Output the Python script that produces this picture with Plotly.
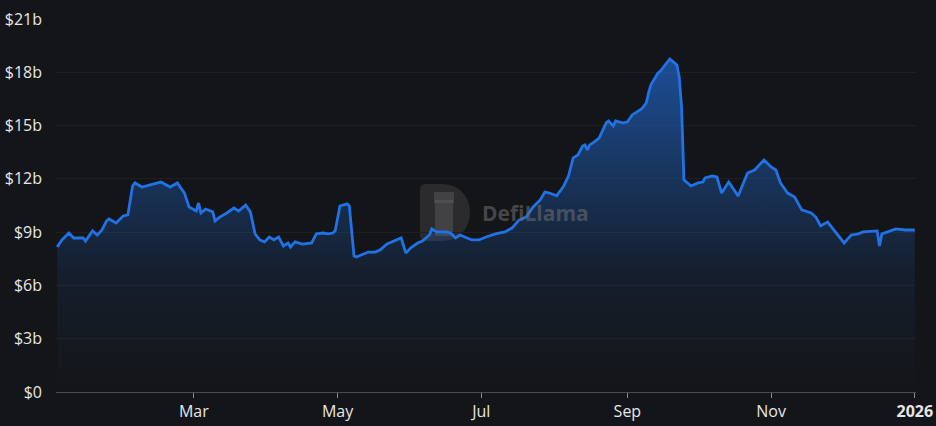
import plotly.graph_objects as go

dates = [
    "2025-01-02", "2025-01-04", "2025-01-07", "2025-01-09", "2025-01-13", "2025-01-14",
    "2025-01-17", "2025-01-19", "2025-01-21", "2025-01-23", "2025-01-24", "2025-01-27",
    "2025-01-30", "2025-02-01", "2025-02-03", "2025-02-04", "2025-02-07", "2025-02-10",
    "2025-02-13", "2025-02-15", "2025-02-19", "2025-02-22", "2025-02-25", "2025-02-27",
    "2025-03-02", "2025-03-03", "2025-03-04", "2025-03-06", "2025-03-09", "2025-03-10",
    "2025-03-12", "2025-03-15", "2025-03-18", "2025-03-20", "2025-03-23", "2025-03-25",
    "2025-03-27", "2025-03-29", "2025-03-31", "2025-04-02", "2025-04-04", "2025-04-06",
    "2025-04-08", "2025-04-10", "2025-04-11", "2025-04-13", "2025-04-16", "2025-04-20",
    "2025-04-22", "2025-04-25", "2025-04-27", "2025-04-29", "2025-04-30", "2025-05-02",
    "2025-05-05", "2025-05-06", "2025-05-08", "2025-05-09", "2025-05-11", "2025-05-14",
    "2025-05-17", "2025-05-19", "2025-05-22", "2025-05-24", "2025-05-28", "2025-05-30",
    "2025-06-01", "2025-06-04", "2025-06-06", "2025-06-09", "2025-06-10", "2025-06-12",
    "2025-06-16", "2025-06-18", "2025-06-20", "2025-06-22", "2025-06-24", "2025-06-27",
    "2025-06-30", "2025-07-03", "2025-07-07", "2025-07-11", "2025-07-14", "2025-07-17",
    "2025-07-20", "2025-07-23", "2025-07-26", "2025-07-28", "2025-07-30", "2025-08-02",
    "2025-08-05", "2025-08-07", "2025-08-09", "2025-08-11", "2025-08-13", "2025-08-14",
    "2025-08-15", "2025-08-16", "2025-08-18", "2025-08-20", "2025-08-21", "2025-08-23",
    "2025-08-24", "2025-08-26", "2025-08-27", "2025-08-29", "2025-08-30", "2025-09-01",
    "2025-09-03", "2025-09-07", "2025-09-09", "2025-09-10", "2025-09-11", "2025-09-14",
    "2025-09-15", "2025-09-17", "2025-09-19", "2025-09-20", "2025-09-22", "2025-09-23",
    "2025-09-24", "2025-09-25", "2025-09-28", "2025-10-01", "2025-10-03", "2025-10-04",
    "2025-10-07", "2025-10-09", "2025-10-11", "2025-10-14", "2025-10-18", "2025-10-22",
    "2025-10-25", "2025-10-29", "2025-11-01", "2025-11-03", "2025-11-05", "2025-11-08",
    "2025-11-11", "2025-11-14", "2025-11-18", "2025-11-20", "2025-11-22", "2025-11-25",
    "2025-11-28", "2025-12-02", "2025-12-05", "2025-12-08", "2025-12-10", "2025-12-16",
    "2025-12-17", "2025-12-18", "2025-12-24", "2025-12-28", "2026-01-01",
]

tvl_billions = [
    8.16, 8.56, 8.95, 8.67, 8.67, 8.50,
    9.07, 8.84, 9.12, 9.63, 9.74, 9.52,
    9.91, 9.97, 11.60, 11.77, 11.54, 11.66,
    11.77, 11.82, 11.54, 11.77, 11.20, 10.41,
    10.19, 10.64, 10.08, 10.30, 10.14, 9.63,
    9.85, 10.08, 10.36, 10.19, 10.52, 10.14,
    8.90, 8.56, 8.45, 8.73, 8.56, 8.73,
    8.22, 8.39, 8.16, 8.45, 8.33, 8.39,
    8.90, 8.95, 8.90, 8.95, 9.07, 10.47,
    10.59, 10.47, 7.65, 7.60, 7.71, 7.88,
    7.88, 7.99, 8.33, 8.45, 8.67, 7.82,
    8.11, 8.39, 8.50, 8.84, 9.18, 9.01,
    9.01, 8.95, 8.67, 8.84, 8.73, 8.56,
    8.56, 8.73, 8.90, 9.01, 9.23, 9.68,
    9.85, 10.42, 10.81, 11.26, 11.20, 11.04,
    11.60, 12.16, 13.18, 13.34, 13.85, 13.91,
    13.63, 13.91, 14.08, 14.30, 14.58, 15.15,
    15.26, 14.98, 15.26, 15.20, 15.15, 15.20,
    15.60, 15.93, 16.27, 16.84, 17.29, 17.96,
    18.07, 18.41, 18.75, 18.64, 18.41, 17.74,
    16.05, 11.94, 11.60, 11.77, 11.82, 12.05,
    12.16, 12.11, 11.20, 11.82, 11.04, 12.33,
    12.50, 13.06, 12.67, 12.50, 11.77, 11.20,
    10.98, 10.25, 10.08, 9.85, 9.35, 9.57,
    9.07, 8.39, 8.84, 8.90, 9.01, 9.07,
    8.22, 8.90, 9.18, 9.12, 9.12,
]

y_tick_vals = [0, 3, 6, 9, 12, 15, 18, 21]
y_tick_text = ["$0", "$3b", "$6b", "$9b", "$12b", "$15b", "$18b", "$21b"]
x_tick_vals = ["2025-03-01", "2025-05-01", "2025-07-01", "2025-09-01", "2025-11-01", "2026-01-01"]
x_tick_text = ["Mar", "May", "Jul", "Sep", "Nov", "<b>2026</b>"]

BG = "#141518"
LINE = "#2172E5"
FONT = "Open Sans"

W, H = 936, 426
ML, MR, MT, MB = 56, 20, 19, 34
PW, PH = W - ML - MR, H - MT - MB


def px(x):
    return (x - ML) / PW


def py(y):
    return (H - MB - y) / PH


fig = go.Figure()
fig.add_trace(go.Scatter(
    x=dates, y=tvl_billions, mode="lines",
    line=dict(color=LINE, width=2.8),
    fill="tozeroy",
    fillgradient=dict(
        type="vertical",
        start=0, stop=19,
        colorscale=[[0, "rgba(33,114,229,0.0)"], [0.35, "rgba(33,114,229,0.10)"],
                    [1, "rgba(33,114,229,0.62)"]],
    ),
    hoverinfo="skip",
    showlegend=False,
))

# watermark: "D" shaped logo block
x0, x1, y0, y1 = 420, 470, 184, 241
r = (y1 - y0) / 2
xm = x1 - r
d_path = (
    f"M {px(x0 + 6)},{py(y0)} L {px(xm)},{py(y0)} "
    f"C {px(xm + r * 1.33)},{py(y0)} {px(xm + r * 1.33)},{py(y1)} {px(xm)},{py(y1)} "
    f"L {px(x0 + 6)},{py(y1)} Q {px(x0)},{py(y1)} {px(x0)},{py(y1 - 6)} "
    f"L {px(x0)},{py(y0 + 6)} Q {px(x0)},{py(y0)} {px(x0 + 6)},{py(y0)} Z"
)
fig.add_shape(type="path", xref="paper", yref="paper", path=d_path,
              fillcolor="rgba(62,62,64,0.55)", line=dict(width=0), layer="below")
# llama silhouette (simplified)
fig.add_shape(type="rect", xref="paper", yref="paper",
              x0=px(435), x1=px(453), y0=py(236), y1=py(200),
              fillcolor="rgba(95,95,98,0.45)", line=dict(width=0), layer="below")
fig.add_shape(type="rect", xref="paper", yref="paper",
              x0=px(434), x1=px(454), y0=py(203), y1=py(192),
              fillcolor="rgba(95,95,98,0.45)", line=dict(width=0), layer="below")
fig.add_annotation(text="<b>DefiLlama</b>", xref="paper", yref="paper",
                   x=px(535), y=py(213),
                   showarrow=False,
                   font=dict(family=FONT, size=21, color="rgba(105,105,108,0.6)"))

fig.update_layout(
    width=W, height=H,
    margin=dict(l=ML, r=MR, t=MT, b=MB, autoexpand=False),
    paper_bgcolor=BG, plot_bgcolor=BG,
    font=dict(family=FONT, size=16, color="#e6e6e6"),
    xaxis=dict(
        type="date",
        range=["2025-01-01 12:00", "2026-01-01 12:00"],
        tickvals=x_tick_vals, ticktext=x_tick_text,
        showgrid=False, zeroline=False, automargin=False,
        showline=True, linecolor="#4a4b50", linewidth=1,
        ticks="outside", ticklen=5, tickcolor="#8a8b90", tickwidth=1,
        tickfont=dict(size=16, color="#e6e6e6"),
    ),
    yaxis=dict(
        range=[0, 21],
        tickvals=y_tick_vals, ticktext=y_tick_text,
        showgrid=True, gridcolor="#1e1f23", gridwidth=1,
        zeroline=False, showline=False, automargin=False,
        ticks="", ticklabelstandoff=13,
        tickfont=dict(size=16, color="#e6e6e6"),
    ),
)

fig.write_html(
    "out.html",
    config={"displayModeBar": False},
    post_script="document.body.style.margin='0';document.body.style.background='#141518';",
)
